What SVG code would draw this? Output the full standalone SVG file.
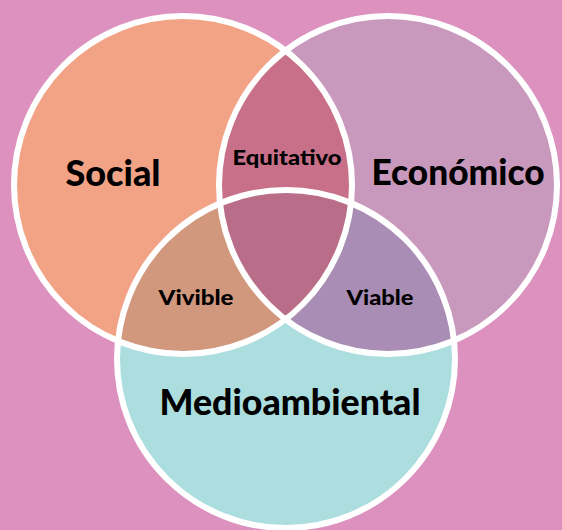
<svg xmlns="http://www.w3.org/2000/svg" width="562" height="530" viewBox="0 0 562 530">
<defs>
<style>
.ring{fill:none;stroke:#ffffff;stroke-width:6}
.big{font-family:Lato,"Open Sans","Liberation Sans",sans-serif;font-weight:900;font-size:36px;fill:#000;text-anchor:middle}
.small{font-family:Lato,"Open Sans","Liberation Sans",sans-serif;font-weight:900;font-size:21px;fill:#000;text-anchor:middle}
</style>
<clipPath id="cS"><circle cx="183" cy="185" r="169"/></clipPath>
<clipPath id="cE"><circle cx="388" cy="185" r="169"/></clipPath>
<clipPath id="cM"><circle cx="286" cy="359" r="169"/></clipPath>
</defs>
<rect x="0" y="0" width="562" height="530" fill="#dc91be"/>
<g id="fills">
<circle cx="183" cy="185" r="169" fill="#f2a386"/>
<circle cx="388" cy="185" r="169" fill="#c899bc"/>
<circle cx="286" cy="359" r="169" fill="#acdddf"/>
<circle cx="388" cy="185" r="169" fill="#c8708a" clip-path="url(#cS)"/>
<circle cx="286" cy="359" r="169" fill="#d1987e" clip-path="url(#cS)"/>
<circle cx="286" cy="359" r="169" fill="#a98db4" clip-path="url(#cE)"/>
<g clip-path="url(#cE)"><circle cx="286" cy="359" r="169" fill="#ba6d88" clip-path="url(#cS)"/></g>
</g>
<g id="node-social">
<circle class="ring" cx="183" cy="185" r="169"/>
</g>
<g id="node-economico">
<circle class="ring" cx="388" cy="185" r="169"/>
</g>
<g id="node-medioambiental">
<circle class="ring" cx="286" cy="359" r="169"/>
</g>
<g id="labels">
<text class="big" x="113" y="186" textLength="95" lengthAdjust="spacingAndGlyphs">Social</text>
<text class="big" x="458" y="185" textLength="173" lengthAdjust="spacingAndGlyphs">Económico</text>
<text class="big" x="290" y="415" textLength="261" lengthAdjust="spacingAndGlyphs">Medioambiental</text>
<text class="small" x="287" y="165" textLength="109" lengthAdjust="spacingAndGlyphs">Equitativo</text>
<text class="small" x="196" y="305" textLength="75" lengthAdjust="spacingAndGlyphs">Vivible</text>
<text class="small" x="380" y="305" textLength="67" lengthAdjust="spacingAndGlyphs">Viable</text>
</g>
<g id="connectors"/>
</svg>
